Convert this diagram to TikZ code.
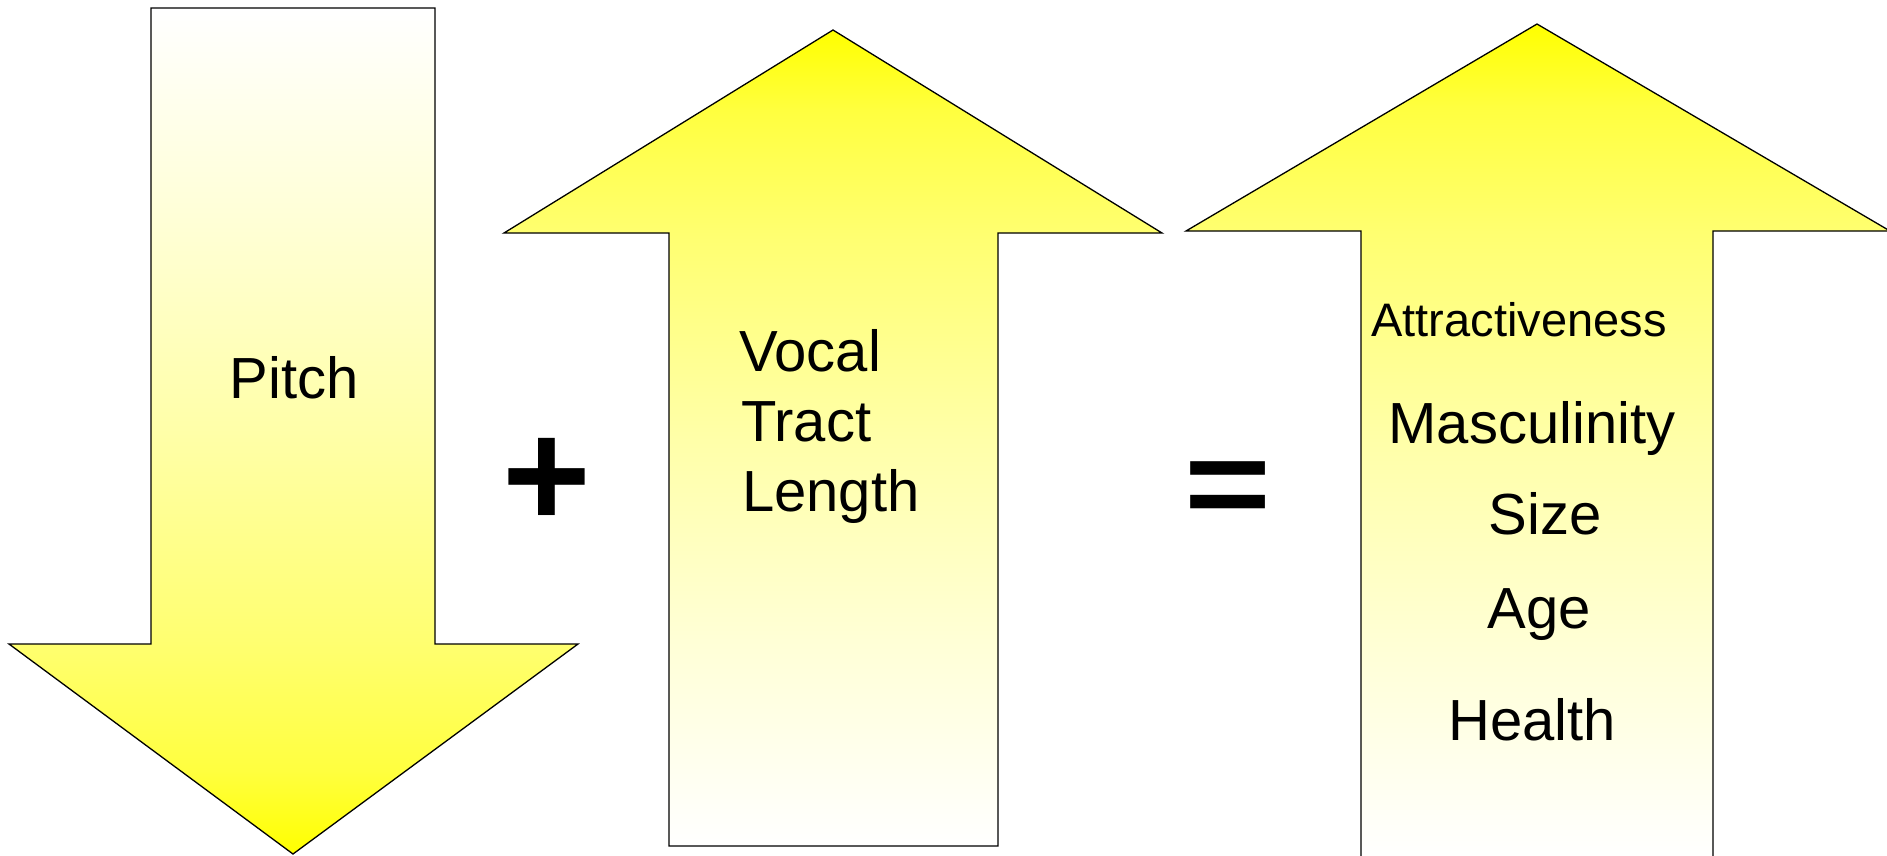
\documentclass[tikz,border=0pt]{standalone}
\usepackage{fontspec}
\setmainfont{Liberation Sans}
% fading steps between yellow and white
\colorlet{ylA}{yellow!75!white}
\colorlet{ylB}{yellow!56!white}
\colorlet{ylC}{yellow!34!white}
\colorlet{ylD}{yellow!16!white}
\pgfdeclareverticalshading{yellowup}{100bp}{%
  color(0bp)=(white); color(25bp)=(white); color(37.5bp)=(ylD);
  color(50bp)=(ylC); color(62.5bp)=(ylB); color(70bp)=(ylA);
  color(75bp)=(yellow); color(100bp)=(yellow)}
\pgfdeclareverticalshading{yellowdown}{100bp}{%
  color(0bp)=(yellow); color(25bp)=(yellow); color(30bp)=(ylA);
  color(37.5bp)=(ylB); color(50bp)=(ylC); color(62.5bp)=(ylD);
  color(75bp)=(white); color(100bp)=(white)}
\begin{document}
\begin{tikzpicture}[x=1pt,y=-1pt,
  arrowshape/.style={draw=black, line width=1.3pt, line join=miter},
  downfill/.style={shade, shading=yellowdown},
  upfill/.style={shade, shading=yellowup},
  word/.style={inner sep=0pt, font=\fontsize{58}{70}\selectfont},
  smallword/.style={inner sep=0pt, font=\fontsize{47}{56}\selectfont},
  sign/.style={inner sep=0pt, font=\bfseries\fontsize{152}{152}\selectfont}]
\useasboundingbox (0,0) rectangle (1887,855);

% downward arrow: pitch
\path[arrowshape, downfill]
  (151,8) -- (435,8) -- (435,644) -- (578,644) -- (293,854)
  -- (9,644) -- (151,644) -- cycle;

% upward arrow: vocal tract length
\path[arrowshape, upfill]
  (833,30) -- (1162,233) -- (998,233) -- (998,846) -- (669,846)
  -- (669,233) -- (504,233) -- cycle;

% upward arrow: perceived traits (runs off the page at the right and bottom)
\path[arrowshape, upfill]
  (1537,24) -- (1890,231) -- (1713,231) -- (1713,858) -- (1361,858)
  -- (1361,231) -- (1186,231) -- cycle;

% labels
\node[word, anchor=base] (pitch) at (294,398) {Pitch};

\node[word, anchor=base west] (vocal)  at (739,371) {Vocal};
\node[word, anchor=base west] (tract)  at (741,441) {Tract};
\node[word, anchor=base west] (length) at (742,511) {Length};

\node[smallword, anchor=base] (attr)   at (1519,336) {Attractiveness};
\node[word, anchor=base] (masc)   at (1532,443) {Masculinity};
\node[word, anchor=base] (size)   at (1545,534) {Size};
\node[word, anchor=base] (age)    at (1539,628) {Age};
\node[word, anchor=base] (health) at (1532,740) {Health};

% operators between the arrows
\node[sign, anchor=base] (plus) at (547,527) {+};
\node[sign, anchor=base, transform shape, xscale=0.98, yscale=0.82]
  (equals) at (1228,526) {=};
\end{tikzpicture}
\end{document}
